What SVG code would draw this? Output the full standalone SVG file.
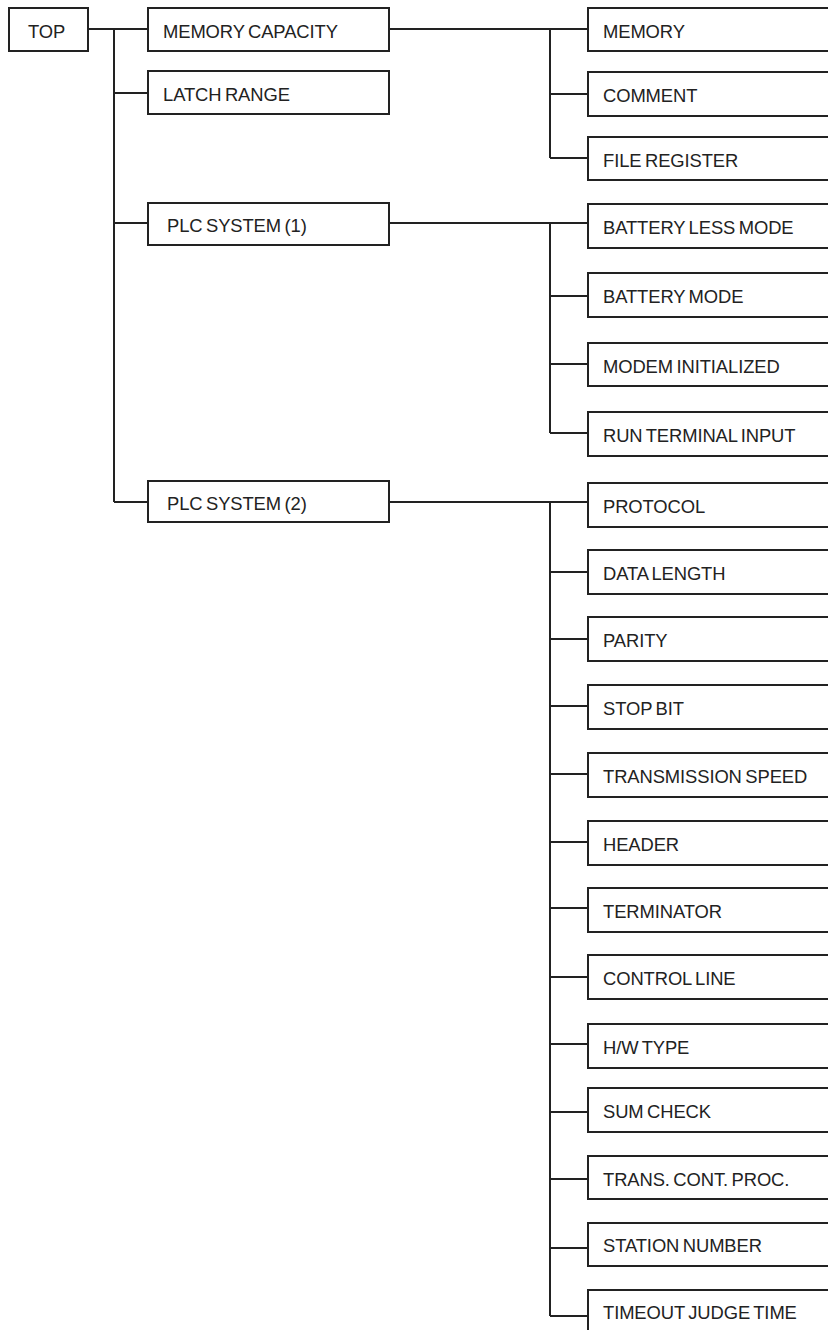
<svg xmlns="http://www.w3.org/2000/svg" width="828" height="1330" viewBox="0 0 828 1330">
<style>
rect{fill:#fff;stroke:#222;stroke-width:2}
text{font-family:"Liberation Sans",Arial,sans-serif;font-size:18.4px;fill:#222;letter-spacing:-0.1px;word-spacing:-1.5px}
.c path{fill:none;stroke:#222;stroke-width:2}
</style>
<rect x="0" y="0" width="828" height="1330" style="stroke:none"/>
<g class="c" id="connectors">
<path d="M88 29H148M114 29V502M114 93H148M114 223H148M114 502H148"/>
<path d="M389 29H588M550 29V158M550 94H588M550 158H588"/>
<path d="M389 223H588M550 223V433M550 296H588M550 364H588M550 433H588"/>
<path d="M389 502H588M550 502V1316M550 572H588M550 639H588M550 706H588M550 774H588M550 842H588M550 908H588M550 977H588M550 1044H588M550 1112H588M550 1179H588M550 1248H588M550 1316H588"/>
</g>
<g id="top"><rect x="9" y="8" width="79" height="43"/><text x="28" y="38">TOP</text></g>
<g id="memory-capacity"><rect x="148" y="8" width="241" height="43"/><text x="163" y="38">MEMORY CAPACITY</text></g>
<g id="latch-range"><rect x="148" y="71" width="241" height="43"/><text x="163" y="101">LATCH RANGE</text></g>
<g id="plc-system-1"><rect x="148" y="203" width="241" height="42"/><text x="167" y="232">PLC SYSTEM (1)</text></g>
<g id="plc-system-2"><rect x="148" y="481" width="241" height="41"/><text x="167" y="510">PLC SYSTEM (2)</text></g>
<g id="memory"><rect x="588" y="8" width="260" height="43"/><text x="603" y="38">MEMORY</text></g>
<g id="comment"><rect x="588" y="72" width="260" height="44"/><text x="603" y="102">COMMENT</text></g>
<g id="file-register"><rect x="588" y="137" width="260" height="43"/><text x="603" y="167">FILE REGISTER</text></g>
<g id="battery-less-mode"><rect x="588" y="204" width="260" height="44"/><text x="603" y="234">BATTERY LESS MODE</text></g>
<g id="battery-mode"><rect x="588" y="273" width="260" height="44"/><text x="603" y="303">BATTERY MODE</text></g>
<g id="modem-initialized"><rect x="588" y="343" width="260" height="43"/><text x="603" y="373">MODEM INITIALIZED</text></g>
<g id="run-terminal-input"><rect x="588" y="412" width="260" height="44"/><text x="603" y="442">RUN TERMINAL INPUT</text></g>
<g id="protocol"><rect x="588" y="483" width="260" height="44"/><text x="603" y="513">PROTOCOL</text></g>
<g id="data-length"><rect x="588" y="550" width="260" height="44"/><text x="603" y="580">DATA LENGTH</text></g>
<g id="parity"><rect x="588" y="617" width="260" height="44"/><text x="603" y="647">PARITY</text></g>
<g id="stop-bit"><rect x="588" y="685" width="260" height="44"/><text x="603" y="715">STOP BIT</text></g>
<g id="transmission-speed"><rect x="588" y="753" width="260" height="44"/><text x="603" y="783">TRANSMISSION SPEED</text></g>
<g id="header"><rect x="588" y="821" width="260" height="44"/><text x="603" y="851">HEADER</text></g>
<g id="terminator"><rect x="588" y="888" width="260" height="44"/><text x="603" y="918">TERMINATOR</text></g>
<g id="control-line"><rect x="588" y="955" width="260" height="44"/><text x="603" y="985">CONTROL LINE</text></g>
<g id="hw-type"><rect x="588" y="1024" width="260" height="44"/><text x="603" y="1054">H/W TYPE</text></g>
<g id="sum-check"><rect x="588" y="1088" width="260" height="44"/><text x="603" y="1118">SUM CHECK</text></g>
<g id="trans-cont-proc"><rect x="588" y="1156" width="260" height="43"/><text x="603" y="1186">TRANS. CONT. PROC.</text></g>
<g id="station-number"><rect x="588" y="1223" width="260" height="43"/><text x="603" y="1252">STATION NUMBER</text></g>
<g id="timeout-judge-time"><rect x="588" y="1290" width="260" height="44"/><text x="603" y="1319">TIMEOUT JUDGE TIME</text></g>
</svg>
